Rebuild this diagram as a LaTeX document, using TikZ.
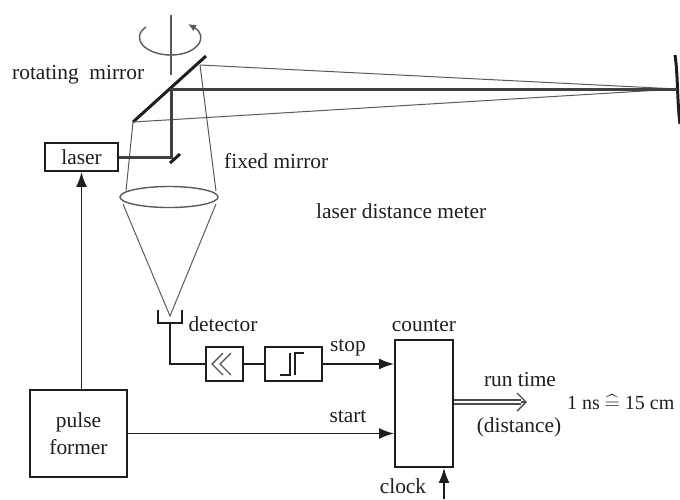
\documentclass[tikz,border=0pt]{standalone}
\usepackage{amsmath}
\usepackage{fontspec}
\setmainfont{Liberation Serif}
\usetikzlibrary{positioning,arrows.meta,calc,shapes.geometric}
\definecolor{ink}{HTML}{1E1E1E}
\definecolor{soft}{HTML}{5A5A5A}

\begin{document}
\begin{tikzpicture}[
  x=1pt,y=-1pt,
  font=\fontsize{21.4}{27}\selectfont,
  text=ink,
  box/.style={draw=ink,line width=1.8pt,fill=white,inner sep=0pt,align=center},
  lbl/.style={inner sep=0pt,align=center},
  sig/.style={ink,line width=1.8pt},
  lnk/.style={-{Latex[length=15pt,width=11pt]},ink,line width=1.8pt},
  beam/.style={ink!85,line width=3pt},
  ray/.style={soft,line width=1pt},
  thin/.style={soft,line width=1.4pt},
  mirror/.style={ink,line width=3pt}
]
\useasboundingbox (0,0) rectangle (680,499);
% mirrors and axis
\coordinate (mirrorlo) at (133,122);
\coordinate (mirrorhi) at (206,56);
\coordinate (hit) at (171,89);
\coordinate (fixedlo) at (170,163);
\coordinate (fixedhi) at (180,154);
\coordinate (fixedhit) at (171,157);
\coordinate (axistop) at (171,15);
\coordinate (axisend) at (171,75);
\coordinate (spot) at (677,89);
\coordinate (raytop) at (200,65);
\draw[mirror] (mirrorlo) -- (mirrorhi);
\draw[mirror] (fixedlo) -- (fixedhi);
\draw[thin] (axistop) -- (axisend);
\draw[thin,-{Latex[length=8pt,width=7pt]}]
  (146,27) .. controls (130,38) and (145,55) .. (171,55)
  .. controls (198,55) and (209,36) .. (188,24);
% target
\draw[ink,line width=3pt] (675,55) .. controls (678,75) and (677,100) .. (680,124);

% lens, cone
\node[draw=soft,line width=1.4pt,ellipse,minimum width=98pt,minimum height=21pt,inner sep=0pt] (lens) at (169,197) {};
\coordinate (lensl) at (126,191);
\coordinate (lensr) at (216,191);
\coordinate (lenslo) at (123,204);
\coordinate (lensro) at (216,204);
\coordinate (focus) at (170,316);
\draw[ray] (mirrorlo) -- (lensl);
\draw[ray] (raytop) -- (lensr);
\draw[ray] (lenslo) -- (focus) -- (lensro);
\draw[ray] (mirrorlo) -- (spot);
\draw[ray] (raytop) -- (spot);

% beam
\node[box,minimum width=73pt,minimum height=28pt] (laser) at (81.5,157) {laser};
\draw[beam] (laser.east) -- (fixedhit) -- (hit) -- (spot);

% detector
\coordinate (detl) at (158,310);
\coordinate (detr) at (182,310);
\coordinate (detbl) at (158,323);
\coordinate (detbr) at (182,323);
\coordinate (detout) at (170,323);
\draw[sig] (detl) -- (detbl) -- (detbr) -- (detr);

% blocks along the stop line
\node[box,minimum width=37pt,minimum height=34pt] (amp) at (224.5,364) {};
\node[box,minimum width=57pt,minimum height=34pt] (trig) at (293.5,364) {};
\node[box,minimum width=58pt,minimum height=127pt] (counter) at (424,403.5) {};
\node[box,minimum width=97pt,minimum height=87pt] (pulse) at (78.5,433.5) {pulse\\former};
\draw[thin] (223,353) -- (212,364) -- (223,375);
\draw[thin] (231,353) -- (220,364) -- (231,375);
\draw[sig] (280,375) -- (290,375) -- (290,353);
\draw[sig] (295,375) -- (295,353) -- (304,353);

\draw[sig] (detout) |- (amp.west);
\draw[sig] (amp.east) -- (trig.west);
\draw[lnk] (trig.east) -- (trig.east-|counter.west);
\draw[lnk] (pulse.east) -- (pulse.east-|counter.west);
\draw[lnk] (pulse.north-|laser.south) -- (laser.south);

% output
\coordinate (clockin) at (444,499);
\coordinate (outneck) at (521,402);
\coordinate (outend) at (527,402);
\draw[lnk] (clockin) -- (clockin|-counter.south);
\draw[ink!80,double=white,double distance=2.6pt,line width=1.4pt] (counter.east|-outend) -- (outneck);
\draw[ink!80,line width=1.4pt,-{Straight Barb[length=9pt,width=18pt]}] (outneck) -- (outend);

% labels
\node[lbl,anchor=west] (rotlbl) at (12,75) {rotating\ \ mirror};
\node[lbl,anchor=west] (fixlbl) at (224,161) {fixed mirror};
\node[lbl,anchor=west] (metlbl) at (316,211) {laser distance meter};
\node[lbl] (detlbl) at (223,324) {detector};
\node[lbl] (stoplbl) at (348,348) {stop};
\node[lbl] (startlbl) at (348,417) {start};
\node[lbl] (countlbl) at (424,326) {counter};
\node[lbl] (runlbl) at (520,380) {run time};
\node[lbl] (distlbl) at (519,427) {(distance)};
\node[lbl] (clocklbl) at (403,486) {clock};
\node[lbl,anchor=west,font=\fontsize{20}{24}\selectfont] (nslbl) at (567,402) {1 ns $\widehat{=}$ 15 cm};
\end{tikzpicture}
\end{document}
